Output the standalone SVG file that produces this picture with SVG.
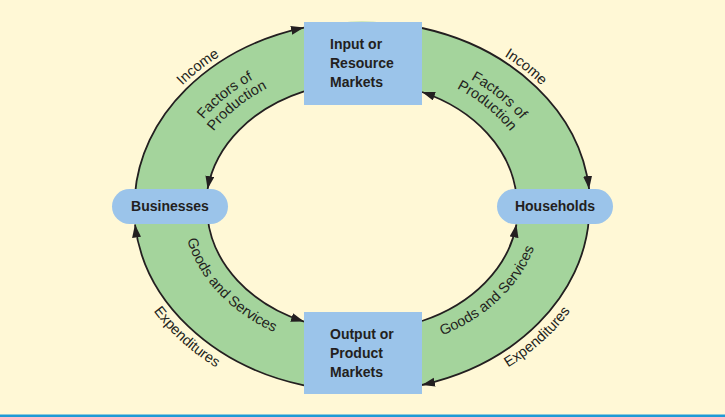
<svg xmlns="http://www.w3.org/2000/svg" width="725" height="417" viewBox="0 0 725 417">
<style>
.ring{fill:#A4D49C;fill-rule:evenodd;stroke:none}
.arc{fill:none;stroke:#231F20;stroke-width:1.8}
.box{fill:#9BC4EA}
.bt{font-family:"Liberation Sans",Arial,sans-serif;font-weight:bold;font-size:14px;fill:#231F20}
.lt{font-family:"Liberation Sans",Arial,sans-serif;font-size:14.5px;fill:#231F20}
</style>
<defs>
<marker id="ah" markerUnits="userSpaceOnUse" markerWidth="14" markerHeight="10" refX="13" refY="4.5" orient="auto" viewBox="0 0 14 10">
<path d="M0,0 L13,4.5 L0,9 z" fill="#231F20"/>
</marker>
<path id="pIncTL" d="M143.1,141.5 A233,190 0 0 1 282.3,28"/>
<path id="pIncTR" d="M441.7,28 A233,190 0 0 1 580.9,141.5"/>
<path id="pFacTL" d="M175.3,170.4 A192,154.5 0 0 1 307.5,58.4"/>
<path id="pFacTR" d="M416.5,58.4 A192,154.5 0 0 1 548.7,170.4"/>
<path id="pProTL" d="M191.4,173.7 A175.4,140.5 0 0 1 312.2,71.8"/>
<path id="pProTR" d="M411.8,71.8 A175.4,140.5 0 0 1 532.6,173.7"/>
<path id="pGoodBL" d="M182.2,209 A179.8,144.1 0 0 0 303.5,342.7"/>
<path id="pGoodBR" d="M411.6,345 A179.8,144.1 0 0 0 541.4,216.6"/>
<path id="pExpBL" d="M128.1,263.6 A244,201 0 0 0 264.7,390.8"/>
<path id="pExpBR" d="M459.3,390.8 A244,201 0 0 0 595.9,263.6"/>
</defs>
<rect x="0" y="0" width="725" height="417" fill="#FFF8D6"/>
<rect x="0" y="414.5" width="725" height="2.5" fill="#1E9AD6"/>
<path class="ring" d="M134,206.5 A228,185 0 1 0 590,206.5 A228,185 0 1 0 134,206.5 Z M206,206.5 A156,124 0 1 0 518,206.5 A156,124 0 1 0 206,206.5 Z"/>
<g id="connectors">
<path class="arc" marker-end="url(#ah)" d="M134.9,195 A228,185 0 0 1 304,27.6"/>
<path class="arc" marker-end="url(#ah)" d="M304,91.4 A156,124 0 0 0 207.6,189"/>
<path class="arc" marker-end="url(#ah)" d="M422,28 A228,185 0 0 1 589.1,189"/>
<path class="arc" marker-end="url(#ah)" d="M516.4,195 A156,124 0 0 0 422,92"/>
<path class="arc" marker-end="url(#ah)" d="M207.6,218 A156,124 0 0 0 304,321.6"/>
<path class="arc" marker-end="url(#ah)" d="M304,385.4 A228,185 0 0 1 135,224.5"/>
<path class="arc" marker-end="url(#ah)" d="M422,321 A156,124 0 0 0 516.4,224.5"/>
<path class="arc" marker-end="url(#ah)" d="M589,218 A228,185 0 0 1 422,385"/>
</g>
<g id="labels">
<text class="lt"><textPath href="#pIncTL" startOffset="50%" text-anchor="middle">Income</textPath></text>
<text class="lt"><textPath href="#pIncTR" startOffset="50%" text-anchor="middle">Income</textPath></text>
<text class="lt"><textPath href="#pFacTL" startOffset="50%" text-anchor="middle">Factors of</textPath></text>
<text class="lt"><textPath href="#pProTL" startOffset="50%" text-anchor="middle">Production</textPath></text>
<text class="lt"><textPath href="#pFacTR" startOffset="50%" text-anchor="middle">Factors of</textPath></text>
<text class="lt"><textPath href="#pProTR" startOffset="50%" text-anchor="middle">Production</textPath></text>
<text class="lt"><textPath href="#pGoodBL" startOffset="50%" text-anchor="middle">Goods and Services</textPath></text>
<text class="lt"><textPath href="#pGoodBR" startOffset="50%" text-anchor="middle">Goods and Services</textPath></text>
<text class="lt"><textPath href="#pExpBL" startOffset="50%" text-anchor="middle">Expenditures</textPath></text>
<text class="lt"><textPath href="#pExpBR" startOffset="50%" text-anchor="middle">Expenditures</textPath></text>
</g>
<g id="input-markets">
<rect class="box" x="304" y="22" width="118" height="83"/>
<text class="bt" x="330" y="49">Input or</text>
<text class="bt" x="330" y="68">Resource</text>
<text class="bt" x="330" y="87">Markets</text>
</g>
<g id="output-markets">
<rect class="box" x="304" y="312" width="118" height="82"/>
<text class="bt" x="330" y="339">Output or</text>
<text class="bt" x="330" y="358">Product</text>
<text class="bt" x="330" y="377">Markets</text>
</g>
<g id="businesses">
<rect class="box" x="112" y="189" width="116" height="35" rx="17.5"/>
<text class="bt" x="170" y="211" text-anchor="middle">Businesses</text>
</g>
<g id="households">
<rect class="box" x="497" y="189" width="116" height="35" rx="17.5"/>
<text class="bt" x="555" y="211" text-anchor="middle">Households</text>
</g>
</svg>
